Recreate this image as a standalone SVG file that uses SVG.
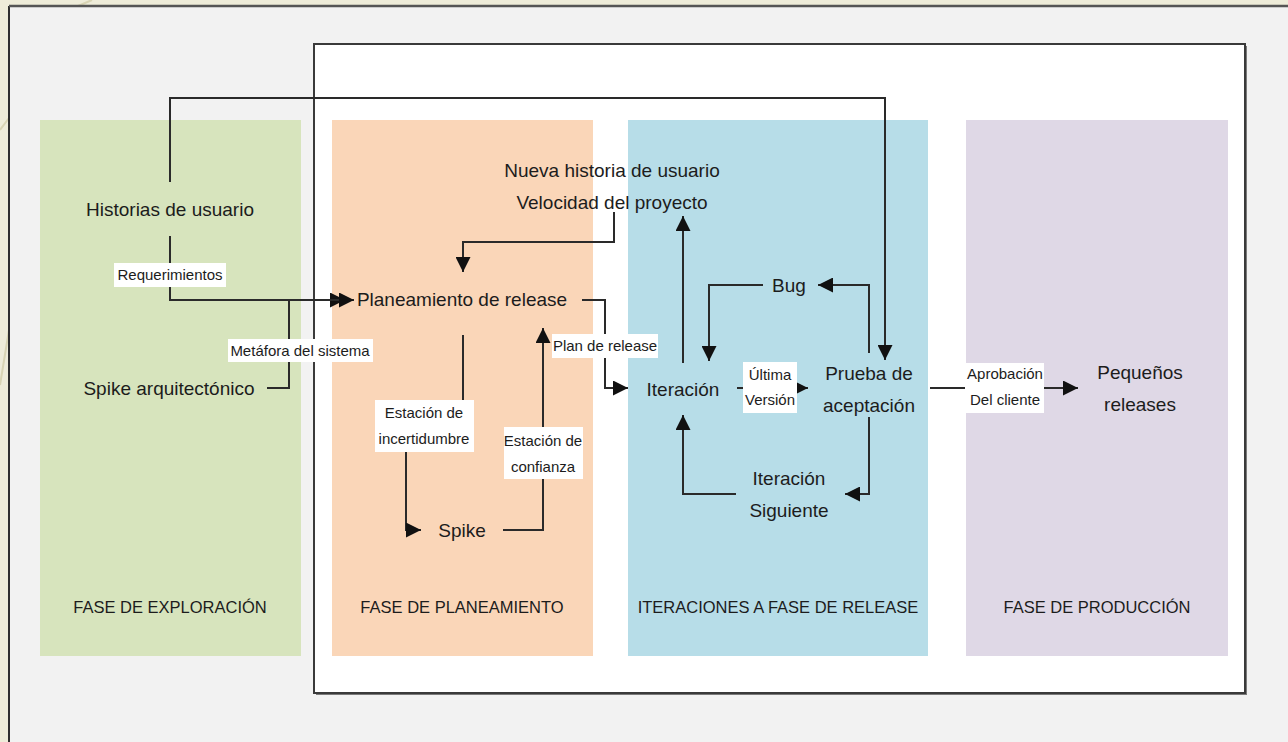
<svg xmlns="http://www.w3.org/2000/svg" width="1288" height="742" viewBox="0 0 1288 742">
<defs>
<style>
.t{font-family:"Liberation Sans",Arial,sans-serif;font-size:19px;fill:#1c1c1c;text-anchor:middle}
.s{font-family:"Liberation Sans",Arial,sans-serif;font-size:15px;fill:#1c1c1c;text-anchor:middle}
.p{font-family:"Liberation Sans",Arial,sans-serif;font-size:16.5px;fill:#1c1c1c;text-anchor:middle}
.c{fill:none;stroke:#2a2a2a;stroke-width:2}
.a{marker-end:url(#arr)}
.lb{fill:#ffffff}
</style>
<marker id="arr" viewBox="0 0 10 10" refX="10" refY="5" markerWidth="15" markerHeight="15" markerUnits="userSpaceOnUse" orient="auto">
<path d="M0,0 L10,5 L0,10 z" fill="#111"/>
</marker>
</defs>
<!-- background -->
<rect x="0" y="0" width="1288" height="742" fill="#eeecd9"/>
<path d="M78,6 L92,0 M0,385 Q4,360 9,330 M0,130 L9,118" stroke="#d8d4b4" stroke-width="2" fill="none"/>
<rect x="9" y="6" width="1279" height="736" fill="#f2f2f2"/>
<line x1="9" y1="6" x2="9" y2="742" stroke="#2e2e2e" stroke-width="2"/>
<line x1="9" y1="6" x2="1288" y2="6" stroke="#555" stroke-width="2.5"/>
<!-- white frame -->
<rect x="316" y="46" width="931" height="649" fill="#7a7a7a"/>
<rect x="314" y="44" width="931" height="649" fill="#ffffff" stroke="#3a3a3a" stroke-width="2"/>
<!-- phase panels -->
<g id="fase-exploracion">
<rect x="40" y="120" width="261" height="536" fill="#d7e4bd"/>
<text class="p" x="170" y="613">FASE DE EXPLORACIÓN</text>
</g>
<g id="fase-planeamiento">
<rect x="332" y="120" width="261" height="536" fill="#fad6b8"/>
<text class="p" x="462" y="613">FASE DE PLANEAMIENTO</text>
</g>
<g id="fase-iteraciones">
<rect x="628" y="120" width="300" height="536" fill="#b7dde8"/>
<text class="p" x="778" y="613">ITERACIONES A FASE DE RELEASE</text>
</g>
<g id="fase-produccion">
<rect x="966" y="120" width="262" height="536" fill="#dfd8e6"/>
<text class="p" x="1097" y="613">FASE DE PRODUCCIÓN</text>
</g>
<!-- connectors -->
<g id="connectors">
<path class="c a" d="M170,182 V98 H885 V360"/>
<path class="c a" d="M170,236 V300 H345"/>
<path class="c a" d="M267,388 H289 V300 H354"/>
<path class="c a" d="M614,212 V242 H463 V272"/>
<path class="c a" d="M582,300 H605 V388 H628"/>
<path class="c a" d="M463,335 V426 H406 V530 H421"/>
<path class="c a" d="M503,530 H543 V328"/>
<path class="c a" d="M683,363 V216"/>
<path class="c a" d="M763,285 H709 V361"/>
<path class="c a" d="M869,353 V285 H818"/>
<path class="c a" d="M737,388 H808"/>
<path class="c a" d="M869,417 V494 H845"/>
<path class="c a" d="M736,494 H683 V415"/>
<path class="c a" d="M930,388 H1078"/>
</g>
<!-- connector labels -->
<g id="label-requerimientos">
<rect class="lb" x="114" y="263" width="112" height="24"/>
<text class="s" x="170" y="280">Requerimientos</text>
</g>
<g id="label-metafora">
<rect class="lb" x="228" y="339" width="145" height="23"/>
<text class="s" x="300" y="356">Metáfora del sistema</text>
</g>
<g id="label-plan-release">
<rect class="lb" x="552" y="334" width="106" height="24"/>
<text class="s" x="605" y="351">Plan de release</text>
</g>
<g id="label-incertidumbre">
<rect class="lb" x="375" y="400" width="99" height="52"/>
<text class="s" x="424" y="418">Estación de</text>
<text class="s" x="424" y="444">incertidumbre</text>
</g>
<g id="label-confianza">
<rect class="lb" x="504" y="427" width="79" height="52"/>
<text class="s" x="543" y="446">Estación de</text>
<text class="s" x="543" y="472">confianza</text>
</g>
<g id="label-ultima-version">
<rect class="lb" x="743" y="362" width="54" height="51"/>
<text class="s" x="770" y="380">Última</text>
<text class="s" x="770" y="405">Versión</text>
</g>
<g id="label-aprobacion">
<rect class="lb" x="965" y="363" width="79" height="50"/>
<text class="s" x="1005" y="379">Aprobación</text>
<text class="s" x="1005" y="405">Del cliente</text>
</g>
<!-- nodes -->
<g id="historias-de-usuario"><text class="t" x="170" y="216">Historias de usuario</text></g>
<g id="spike-arquitectonico"><text class="t" x="169" y="395">Spike arquitectónico</text></g>
<g id="nueva-historia"><text class="t" x="612" y="177">Nueva historia de usuario</text><text class="t" x="612" y="209">Velocidad del proyecto</text></g>
<g id="planeamiento-release"><text class="t" x="462" y="306">Planeamiento de release</text></g>
<g id="spike"><text class="t" x="462" y="537">Spike</text></g>
<g id="iteracion"><text class="t" x="683" y="396">Iteración</text></g>
<g id="bug"><text class="t" x="789" y="292">Bug</text></g>
<g id="prueba-aceptacion"><text class="t" x="869" y="380">Prueba de</text><text class="t" x="869" y="412">aceptación</text></g>
<g id="iteracion-siguiente"><text class="t" x="789" y="485">Iteración</text><text class="t" x="789" y="517">Siguiente</text></g>
<g id="pequenos-releases"><text class="t" x="1140" y="379">Pequeños</text><text class="t" x="1140" y="411">releases</text></g>
</svg>
